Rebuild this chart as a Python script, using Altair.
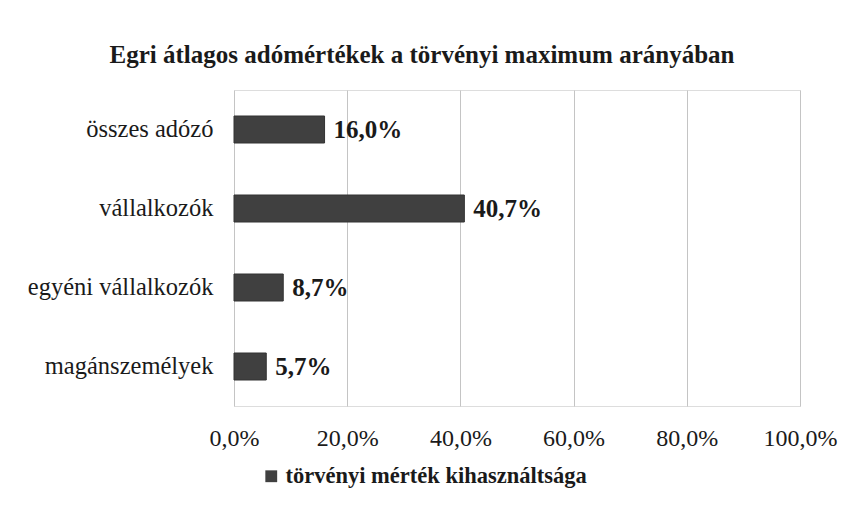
import altair as alt
import pandas as pd

categories = ["összes adózó", "vállalkozók", "egyéni vállalkozók", "magánszemélyek"]
values = [0.160, 0.407, 0.087, 0.057]
series_name = "törvényi mérték kihasználtsága"
x_ticks = [0.0, 0.2, 0.4, 0.6, 0.8, 1.0]

df = pd.DataFrame({"cat": categories, "val": values, "series": [series_name] * len(categories)})

FONT = "Liberation Serif"

base = alt.Chart(df).encode(
    y=alt.Y("cat:N", sort=categories, title=None,
            scale=alt.Scale(paddingInner=0.66, paddingOuter=0.33),
            axis=alt.Axis(labelFont=FONT, labelFontSize=24.5, labelColor="#1a1a1a",
                          ticks=False, domain=False, labelPadding=21, grid=False, labelLimit=0)),
)

bars = base.mark_bar(size=27, color="#404040", stroke="#333333", strokeWidth=1).encode(
    x=alt.X("val:Q", title=None,
            scale=alt.Scale(domain=[0, 1], nice=False),
            axis=alt.Axis(values=x_ticks, labelFont=FONT, labelFontSize=24, labelColor="#1a1a1a",
                          labelExpr="replace(format(datum.value, '.1%'), '.', ',')",
                          labelFlush=False, labelOverlap=False,
                          ticks=False, domain=False, grid=True, gridColor="#c4c4c4",
                          gridWidth=1, labelPadding=20)),
    color=alt.Color("series:N", scale=alt.Scale(range=["#404040"]), title=None,
                    legend=alt.Legend(orient="none", legendX=26, legendY=375,
                                      symbolType="square", symbolSize=140,
                                      labelFont=FONT, labelFontSize=22.5, labelFontWeight="bold",
                                      labelColor="#1a1a1a", symbolStrokeWidth=0,
                                      labelLimit=0, labelOffset=3)),
)

labels = base.mark_text(align="left", baseline="middle", dx=9, font=FONT, fontSize=25,
                        fontWeight="bold", color="#1a1a1a").transform_calculate(
    lbl="replace(format(datum.val, '.1%'), '.', ',')"
).encode(x="val:Q", text="lbl:N")

chart = alt.layer(bars, labels).properties(
    width=566, height=316,
    autosize=alt.AutoSizeParams(type="none"),
    padding={"left": 226, "top": 82, "right": 40, "bottom": 90},
    title=alt.TitleParams("Egri átlagos adómértékek a törvényi maximum arányában",
                          font=FONT, fontSize=25, fontWeight="bold", color="#1a1a1a",
                          anchor="middle", dx=-95, offset=22),
).configure_view(stroke=None).configure(background="white")

chart.save("out.html", embed_options={"renderer": "svg", "actions": False})
